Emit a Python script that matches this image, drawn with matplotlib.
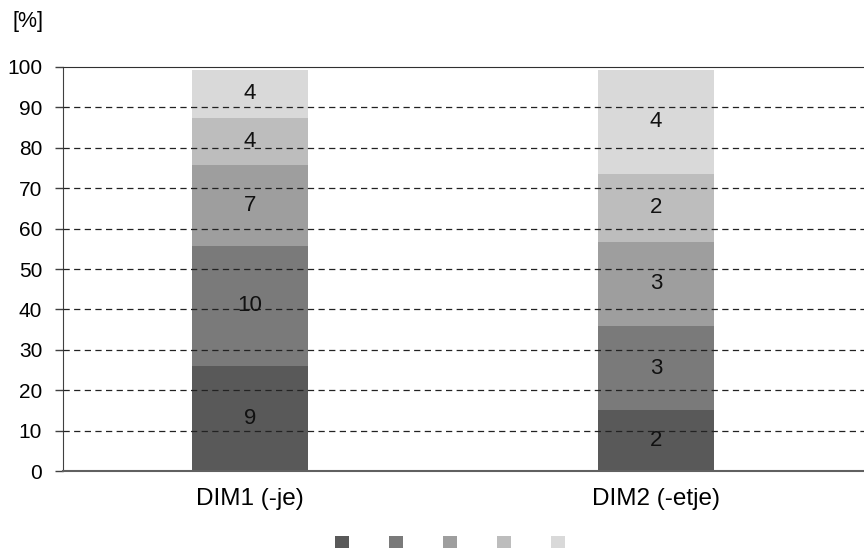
import numpy as np
import matplotlib
matplotlib.use("Agg")
import matplotlib.pyplot as plt
from matplotlib.patches import Patch

plt.rcParams["font.family"] = ["Liberation Sans", "DejaVu Sans"]

# categories and stacked shares [%]
categories = ["DIM1 (-je)", "DIM2 (-etje)"]
seg1 = [26.0, 15.1]
seg2 = [29.7, 20.8]
seg3 = [20.0, 20.8]
seg4 = [11.7, 16.8]
seg5 = [11.9, 25.8]
# counts printed inside each segment
cnt1 = [9, 2]
cnt2 = [10, 3]
cnt3 = [7, 3]
cnt4 = [4, 2]
cnt5 = [4, 4]

segments = [seg1, seg2, seg3, seg4, seg5]
counts = [cnt1, cnt2, cnt3, cnt4, cnt5]
colors = ["#595959", "#7a7a7a", "#9e9e9e", "#bdbdbd", "#d9d9d9"]

fig = plt.figure(figsize=(8.64, 5.49), dpi=100)
ax = fig.add_axes([0.0729, 0.142, 0.9271, 0.736])

x = np.arange(len(categories))
bottom = np.zeros(len(categories))
for vals, cnts, col in zip(segments, counts, colors):
    vals = np.array(vals)
    ax.bar(x, vals, width=0.286, bottom=bottom, color=col, zorder=1)
    for xi, b, v, c in zip(x, bottom, vals, cnts):
        ax.text(xi, b + v / 2, str(c), ha="center", va="center",
                fontsize=16, color="#111111", zorder=4)
    bottom += vals

# dashed grid lines on top of bars
for yv in range(10, 100, 10):
    ax.axhline(yv, color="#222222", lw=0.9, ls=(0, (5, 3.5)), zorder=3)

ax.set_ylim(0, 100)
ax.set_xlim(-0.4606, 1.512)
ax.set_yticks(range(0, 101, 10))
ax.set_xticks(x)
ax.set_xticklabels(categories)
ax.tick_params(axis="y", length=6, width=1, color="#404040", pad=9, labelsize=15)
ax.tick_params(axis="x", length=0, pad=12, labelsize=17.5)

ax.spines["right"].set_visible(False)
ax.spines["left"].set_color("#404040")
ax.spines["top"].set_color("#303030")
ax.spines["bottom"].set_color("#606060")
ax.spines["bottom"].set_linewidth(1.5)

fig.text(12 / 864, 1 - 22 / 549, "[%]", fontsize=15.5, ha="left", va="center")

handles = [Patch(facecolor=c, edgecolor="none") for c in colors]
fig.legend(handles, [""] * 5, loc="center", ncol=5, frameon=False,
           bbox_to_anchor=(450 / 864, 1 - 543 / 549), fontsize=10,
           handlelength=1.0, handleheight=1.0, handletextpad=0,
           columnspacing=2.9, borderpad=0, borderaxespad=0)

fig.savefig("out.png", dpi=100)
